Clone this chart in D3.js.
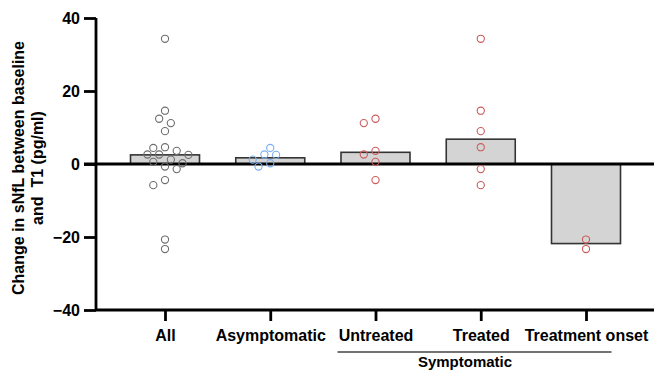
<!DOCTYPE html>
<html><head><meta charset="utf-8">
<script src="https://cdn.jsdelivr.net/npm/d3@7"></script>
<style>body{margin:0;background:#fff}svg{display:block}text{font-family:"Liberation Sans",Arial,sans-serif;font-weight:bold;fill:#000}</style>
</head><body><svg id="c" width="654" height="371"></svg>
<script>
// ---- data ----
const categories = ["All","Asymptomatic","Untreated","Treated","Treatment onset"];
const asymptomatic = [4.4, 2.6, 2.5, 1.2, 0.2, -0.7];
const untreated = [12.4, 11.2, 3.6, 2.6, 0.6, -4.4];
const treated = [34.3, 14.6, 9.0, 4.6, -1.4, -5.8];
const treatmentOnset = [-20.7, -23.3];
const allValues = [].concat(asymptomatic, untreated, treated, treatmentOnset);
const barValues = [2.5, 1.7, 3.2, 6.8, -21.8]; // medians
const yTicks = [-40, -20, 0, 20, 40];
const groupLabel = "Symptomatic";

// ---- layout ----
const svg = d3.select("#c");
const W = 654, H = 371;
const axisX = 96, topY = 18, botY = 310;
const x = d3.scalePoint().domain(categories).range([165, 586]);
const y = d3.scaleLinear().domain([-40, 40]).range([botY, topY]);
const barW = 69;
const groups = [
  {cat: "All", vals: allValues, color: "#6e6e6e"},
  {cat: "Asymptomatic", vals: asymptomatic, color: "#7aaef0"},
  {cat: "Untreated", vals: untreated, color: "#cc5a5a"},
  {cat: "Treated", vals: treated, color: "#cc5a5a"},
  {cat: "Treatment onset", vals: treatmentOnset, color: "#cc5a5a"}
];

// bars
svg.append("g").selectAll("rect").data(barValues).join("rect")
  .attr("x", (d, i) => x(categories[i]) - barW / 2)
  .attr("width", barW)
  .attr("y", d => y(Math.max(0, d)))
  .attr("height", d => Math.abs(y(d) - y(0)))
  .attr("fill", "#d4d4d4").attr("stroke", "#333").attr("stroke-width", 1.6);

// beeswarm placement
const slot = 11.7, dMin = 8.2, r = 3.6;
const cands = [0, -0.5, 0.5, -1, 1, -1.5, 1.5, -2, 2, -2.5, 2.5];
const pts = [];
groups.forEach(g => {
  const sorted = g.vals.slice().sort((a, b) => b - a);
  const placed = [];
  sorted.forEach(v => {
    const py = y(v);
    let off = 0;
    for (const c of cands) {
      const px = c * slot;
      if (placed.every(p => Math.hypot(p.dx - px, p.py - py) >= dMin)) { off = px; break; }
    }
    placed.push({dx: off, py});
    pts.push({x: x(g.cat) + off, y: py, color: g.color});
  });
});

// zero line
svg.append("line").attr("x1", axisX - 12).attr("x2", W).attr("y1", y(0)).attr("y2", y(0))
  .attr("stroke", "#000").attr("stroke-width", 2.8);

// points
svg.append("g").selectAll("circle").data(pts).join("circle")
  .attr("cx", d => d.x).attr("cy", d => d.y).attr("r", r)
  .attr("fill", "none").attr("stroke", d => d.color).attr("stroke-width", 1.1);

// y axis
const ya = svg.append("g").attr("transform", `translate(${axisX},0)`)
  .call(d3.axisLeft(y).tickValues(yTicks).tickSize(12).tickSizeOuter(0).tickPadding(4));
ya.select(".domain").attr("stroke-width", 2.8).attr("d", `M0,${topY}V${botY}`);
ya.selectAll(".tick line").attr("stroke-width", 2.8);
ya.selectAll(".tick text").style("font-size", "16px").style("font-family", '"Liberation Sans",Arial,sans-serif').style("font-weight", "bold");

// x axis
const xa = svg.append("g").attr("transform", `translate(0,${botY})`)
  .call(d3.axisBottom(x).tickSize(11).tickSizeOuter(0).tickPadding(9));
xa.select(".domain").remove();
xa.selectAll(".tick line").attr("stroke-width", 2.8);
xa.selectAll(".tick text").style("font-size", "16px").style("font-family", '"Liberation Sans",Arial,sans-serif').style("font-weight", "bold");
svg.append("line").attr("x1", axisX).attr("x2", W).attr("y1", botY).attr("y2", botY)
  .attr("stroke", "#000").attr("stroke-width", 2.8);

// symptomatic bracket
const bx1 = x("Untreated") - 38, bx2 = x("Treatment onset") + 25.5;
svg.append("line").attr("x1", bx1).attr("x2", bx2).attr("y1", 352).attr("y2", 352)
  .attr("stroke", "#444").attr("stroke-width", 1.6);
svg.append("text").attr("x", 465).attr("y", 367).attr("text-anchor", "middle")
  .style("font-size", "15px").text(groupLabel);

// y title
const yt = svg.append("text").attr("transform", "translate(0,168) rotate(-90)").attr("text-anchor", "middle")
  .style("font-size", "16px").style("white-space", "pre");
yt.append("tspan").attr("x", 0).attr("y", 24).text("Change in sNfL between baseline");
yt.append("tspan").attr("x", 0).attr("y", 43).text("and  T1 (pg/ml)");
</script></body></html>
